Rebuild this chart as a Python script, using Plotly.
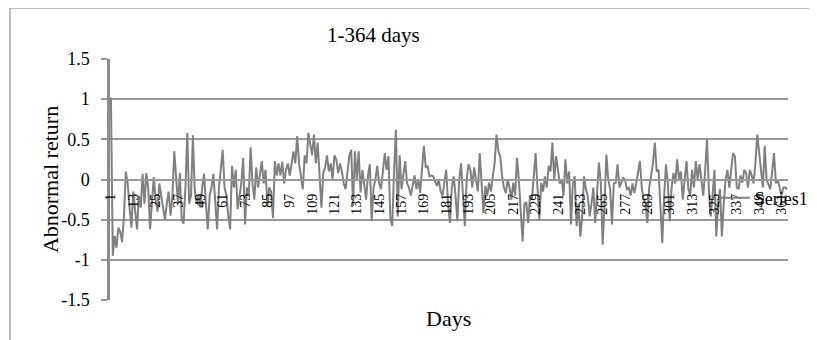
import plotly.graph_objects as go

# Abnormal returns (days 1-364), in segments
ar_days_1_60 = [
    1.02, -0.95, -0.7, -0.85, -0.6, -0.65, -0.78, -0.45, 0.1, -0.05,
    -0.35, -0.6, -0.15, -0.4, -0.62, -0.2, -0.35, 0.07, -0.3, 0.08,
    -0.1, -0.62, -0.3, 0.03, -0.25, -0.4, -0.05, -0.2, -0.4, -0.5,
    -0.3, -0.15, -0.45, -0.2, 0.35, -0.05, -0.3, 0.08, -0.5, -0.55,
    -0.1, 0.58, -0.3, -0.2, 0.55, -0.13, -0.3, -0.2, -0.35, -0.1,
    0.07, -0.3, -0.62, -0.2, -0.1, 0.07, -0.35, -0.62, -0.1, 0.1,
]
ar_days_61_121 = [
    0.37, -0.1, -0.2, -0.45, -0.62, 0.17, -0.1, 0.12, -0.37, -0.2,
    -0.05, 0.27, -0.56, -0.1, -0.2, 0.4, -0.05, -0.25, 0.15, -0.1,
    0.05, 0.23, -0.05, 0.12, -0.33, -0.1, -0.15, -0.48, 0.23, 0.05,
    0.2, 0.05, 0.22, -0.05, 0.12, 0.2, 0.05, 0.23, 0.35, 0.2,
    0.54, 0.2, 0.04, -0.12, 0.3, 0.2, 0.58, 0.42, 0.3, 0.56,
    0.2, 0.46, 0.1, -0.35, 0.08, 0.15, 0.3, 0.1, 0.2, 0.0,
    0.3,
]
ar_days_122_183 = [
    0.25, 0.08, 0.2, 0.1, -0.05, -0.12, 0.1, 0.3, 0.37, -0.33,
    0.35, 0.0, 0.35, -0.16, 0.12, -0.1, -0.25, 0.05, 0.19, -0.52,
    -0.1, 0.0, 0.17, -0.05, -0.12, 0.1, 0.33, 0.12, 0.29, -0.48,
    -0.58, 0.1, 0.62, -0.46, 0.3, -0.12, 0.05, 0.23, -0.05, -0.1,
    -0.2, -0.05, 0.05, -0.12, 0.0, -0.17, 0.1, 0.42, 0.15, 0.17,
    0.04, 0.05, 0.04, -0.02, -0.08, 0.0, -0.15, -0.2, -0.05, 0.12,
    -0.3, -0.54,
]
ar_days_184_245 = [
    -0.1, 0.04, -0.2, -0.52, 0.0, 0.2, -0.2, -0.58, 0.0, 0.19,
    0.12, -0.1, 0.15, 0.0, -0.15, 0.33, -0.1, -0.42, -0.08, -0.2,
    -0.04, -0.15, 0.04, 0.2, 0.56, 0.35, 0.29, 0.04, -0.1, -0.17,
    0.0, -0.1, -0.25, -0.04, -0.2, 0.27, 0.0, -0.37, -0.77, -0.3,
    -0.29, -0.54, -0.2, -0.25, 0.0, 0.33, -0.1, -0.5, -0.04, -0.15,
    0.04, -0.1, 0.17, 0.1, 0.46, 0.0, 0.29, 0.12, -0.05, 0.0,
    -0.2, 0.25,
]
ar_days_246_306 = [
    -0.05, 0.1, -0.56, -0.05, 0.04, -0.58, -0.3, -0.71, -0.46, 0.04,
    -0.12, -0.2, -0.46, -0.3, -0.1, -0.54, -0.2, 0.21, -0.04, -0.81,
    -0.3, 0.31, 0.0, -0.12, -0.56, -0.05, -0.04, 0.19, -0.1, -0.04,
    0.02, 0.0, -0.12, -0.1, -0.2, -0.05, -0.17, -0.05, 0.1, 0.23,
    -0.1, -0.25, -0.3, -0.54, -0.1, 0.08, 0.2, 0.46, 0.1, 0.12,
    -0.3, -0.79, -0.2, 0.19, -0.05, -0.52, -0.1, 0.08, -0.05, 0.25,
    0.0,
]
ar_days_307_364 = [
    0.1, -0.25, 0.0, 0.23, -0.12, -0.2, 0.12, -0.1, 0.23, 0.0,
    0.19, -0.05, -0.2, 0.1, 0.5, -0.12, -0.46, -0.2, 0.12, -0.71,
    -0.3, -0.12, -0.71, -0.3, 0.0, 0.12, -0.1, 0.12, 0.33, 0.29,
    -0.1, -0.12, 0.05, -0.04, 0.12, 0.08, -0.1, 0.12, 0.05, -0.05,
    0.2, 0.56, 0.3, 0.12, -0.1, 0.42, 0.0, -0.05, -0.12, 0.1,
    0.33, -0.05, 0.0, -0.1, -0.2, -0.1, -0.1, -0.12,
]

abnormal_return = (ar_days_1_60 + ar_days_61_121 + ar_days_122_183
                   + ar_days_184_245 + ar_days_246_306 + ar_days_307_364)
days = list(range(1, len(abnormal_return) + 1))

x_tick_vals = list(range(1, 364, 12))
x_tick_text = [str(v) for v in x_tick_vals]
y_tick_vals = [1.5, 1, 0.5, 0, -0.5, -1, -1.5]
y_tick_text = ["1.5", "1", "0.5", "0", "-0.5", "-1", "-1.5"]

FONT = "Liberation Serif"
GRID = "#999999"

fig = go.Figure()
fig.add_trace(go.Scatter(
    x=days, y=abnormal_return, mode="lines", name="Series1",
    line=dict(color="#808080", width=2),
))

fig.update_layout(
    width=817, height=340,
    margin=dict(l=102, r=30, t=51, b=48),
    paper_bgcolor="white", plot_bgcolor="white",
    font=dict(family=FONT, color="black"),
    showlegend=True,
    legend=dict(x=0.892, y=0.423, xanchor="left", yanchor="middle",
                bgcolor="rgba(0,0,0,0)", font=dict(family=FONT, size=18)),
    xaxis=dict(
        range=[0.5, 364.5], anchor="free", position=0.5,
        tickmode="array", tickvals=x_tick_vals, ticktext=x_tick_text,
        tickangle=-90, tickfont=dict(family=FONT, size=14),
        ticklabelstandoff=8,
        showgrid=False, zeroline=False,
        showline=True, linecolor=GRID, linewidth=1.5, ticks="",
    ),
    yaxis=dict(
        range=[-1.5, 1.5], tickmode="array", tickvals=y_tick_vals,
        ticktext=y_tick_text, tickfont=dict(family=FONT, size=18),
        ticklabelstandoff=8,
        showgrid=True, gridcolor=GRID, gridwidth=1.5, zeroline=False,
        showline=True, linecolor="#8c8c8c", linewidth=2.5,
        ticks="outside", ticklen=6, tickcolor=GRID, tickwidth=1.5,
    ),
    annotations=[
        dict(text="1-364 days", xref="paper", yref="paper", x=0.388, y=1.0996,
             xanchor="center", yanchor="middle", showarrow=False,
             font=dict(family=FONT, size=21)),
        dict(text="Days", xref="paper", yref="paper", x=0.499, y=-0.075,
             xanchor="center", yanchor="middle", showarrow=False,
             font=dict(family=FONT, size=22)),
        dict(text="Abnormal return", xref="paper", yref="paper", x=-0.0876, y=0.5,
             xanchor="center", yanchor="middle", showarrow=False, textangle=-90,
             font=dict(family=FONT, size=22)),
    ],
    shapes=[
        dict(type="line", xref="paper", yref="paper", x0=-0.1475, x1=1.05,
             y0=1.2116, y1=1.2116, line=dict(color="#a6a6a6", width=1.5)),
        dict(type="line", xref="paper", yref="paper", x0=-0.1475, x1=-0.1475,
             y0=1.2116, y1=-0.2, line=dict(color="#a6a6a6", width=1.5)),
    ],
)

fig.write_html("out.html")
